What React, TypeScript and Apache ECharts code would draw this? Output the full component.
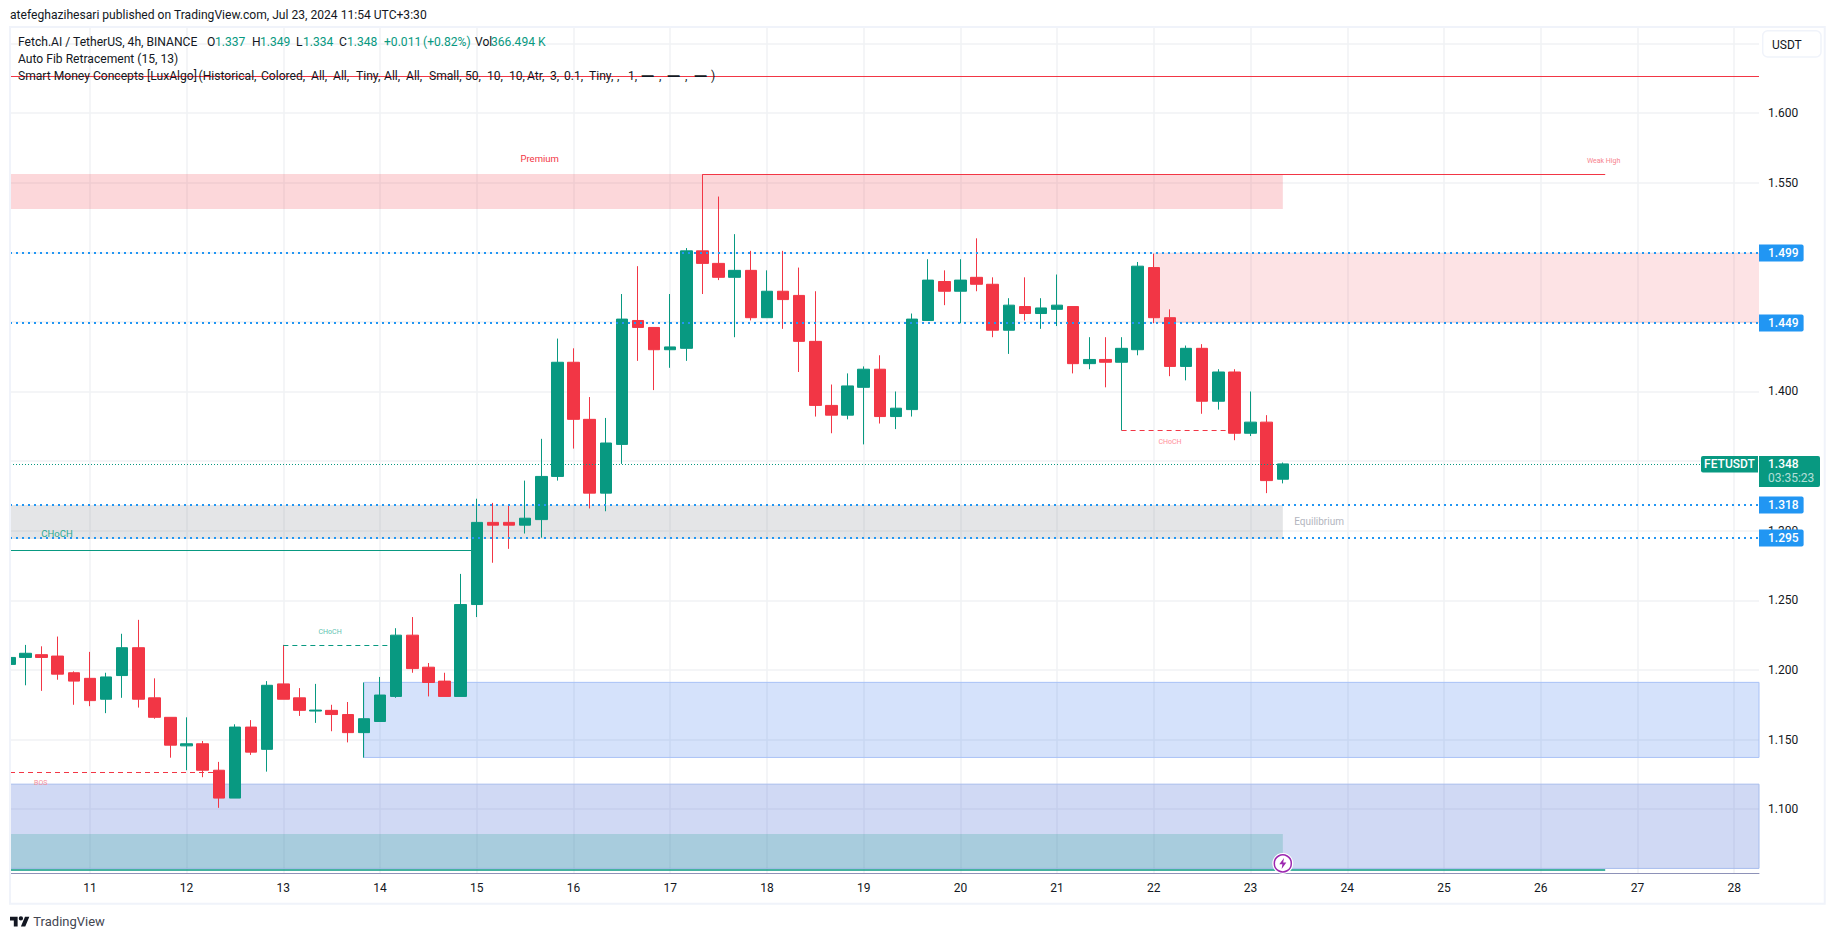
import React, { useEffect, useRef } from "react";
import * as echarts from "echarts";

const opens = [1.204,1.209,1.211,1.210,1.198,1.194,1.179,1.196,1.216,1.180,1.166,1.1455,1.147,1.128,1.108,1.159,1.143,1.190,1.180,1.1705,1.171,1.168,1.155,1.163,1.181,1.225,1.202,1.192,1.181,1.247,1.306,1.306,1.304,1.308,1.339,1.421,1.380,1.327,1.362,1.451,1.446,1.430,1.431,1.501,1.492,1.482,1.487,1.453,1.472,1.469,1.436,1.390,1.383,1.403,1.416,1.382,1.387,1.451,1.479,1.472,1.482,1.477,1.444,1.461,1.456,1.459,1.461,1.420,1.423,1.421,1.430,1.489,1.453,1.418,1.431,1.393,1.414,1.370,1.378,1.337];
const closes = [1.209,1.212,1.209,1.197,1.192,1.178,1.195,1.216,1.179,1.166,1.146,1.147,1.128,1.108,1.159,1.141,1.189,1.179,1.171,1.1712,1.168,1.155,1.165,1.182,1.225,1.201,1.191,1.181,1.247,1.306,1.304,1.304,1.309,1.339,1.421,1.380,1.327,1.363,1.452,1.446,1.430,1.432,1.501,1.492,1.482,1.487,1.453,1.472,1.466,1.436,1.390,1.383,1.404,1.416,1.382,1.388,1.452,1.480,1.472,1.480,1.477,1.444,1.462,1.456,1.460,1.462,1.420,1.423,1.421,1.431,1.490,1.453,1.418,1.431,1.393,1.414,1.370,1.378,1.336,1.348];
const lows = [1.204,1.189,1.185,1.193,1.175,1.174,1.169,1.180,1.173,1.165,1.137,1.128,1.123,1.101,1.108,1.139,1.127,1.179,1.167,1.162,1.156,1.148,1.137,1.163,1.180,1.198,1.181,1.181,1.181,1.238,1.277,1.287,1.298,1.295,1.336,1.359,1.316,1.314,1.348,1.422,1.401,1.417,1.422,1.470,1.480,1.439,1.451,1.453,1.445,1.414,1.382,1.370,1.380,1.362,1.377,1.373,1.382,1.451,1.462,1.449,1.472,1.439,1.427,1.451,1.445,1.447,1.413,1.416,1.403,1.372,1.426,1.449,1.411,1.408,1.384,1.387,1.365,1.368,1.327,1.334];
const highs = [1.209,1.218,1.217,1.224,1.199,1.213,1.198,1.226,1.236,1.194,1.166,1.166,1.149,1.134,1.161,1.164,1.192,1.218,1.187,1.190,1.175,1.177,1.191,1.195,1.230,1.238,1.205,1.198,1.269,1.323,1.320,1.319,1.336,1.366,1.438,1.431,1.396,1.381,1.470,1.490,1.446,1.470,1.503,1.556,1.540,1.513,1.501,1.487,1.501,1.489,1.472,1.405,1.413,1.418,1.426,1.400,1.456,1.495,1.487,1.495,1.510,1.482,1.467,1.482,1.467,1.484,1.461,1.439,1.439,1.439,1.493,1.499,1.459,1.433,1.434,1.416,1.416,1.400,1.383,1.349];

const dayLabels = ["11","12","13","14","15","16","17","18","19","20","21","22","23","24","25","26","27","28"];
const dayTicks = [5,11,17,23,29,35,41,47,53,59,65,71,77,83,89,95,101,107];
const priceGrid = [1.1,1.15,1.2,1.25,1.3,1.35,1.4,1.45,1.5,1.55,1.6,1.65];
const priceLabels = [1.1,1.15,1.2,1.25,1.3,1.4,1.55,1.6];

const X_MIN = 0.0434;
const X_MAX = 108.54;
const Y_MIN = 1.05398;
const Y_MAX = 1.66105;
const LAST_BAR = 79;

const GREEN = "#089981";
const RED = "#f23645";
const BLUE = "#2196f3";
const INK = "#131722";
const GRID = "#f1f2f5";
const FONT = "Roboto";
const HEAD_FONT = `12.1px ${FONT}`;

// [x0, x1, price low, price high, fill, border]
const zones: [number, number, number, number, string, string][] = [
  [X_MIN, LAST_BAR, 1.531, 1.5562, "rgba(242,54,69,0.2)", "transparent"],
  [71, X_MAX, 1.4492, 1.4995, "rgba(242,54,69,0.14)", "transparent"],
  [X_MIN, LAST_BAR, 1.2941, 1.3185, "rgba(120,123,134,0.2)", "transparent"],
  [22, X_MAX, 1.1372, 1.1911, "rgba(45,110,235,0.2)", "#a9c2f6"],
  [X_MIN, X_MAX, 1.0575, 1.118, "rgba(68,104,212,0.25)", "#a7bcec"],
  [X_MIN, LAST_BAR, 1.0575, 1.0822, "rgba(8,153,129,0.2)", "transparent"],
];

const levelPrices = [1.4995, 1.4492, 1.3185, 1.2948];
const levelTexts = ["1.499", "1.449", "1.318", "1.295"];
const LAST_PRICE = 1.348;

// [x0, x1, price, colour, width, dash]
const structureLines: [number, number, number, string, number, string | number[]][] = [
  [X_MIN, X_MAX, 1.6264, RED, 1, "solid"],
  [43, 99, 1.5562, RED, 1, "solid"],
  [X_MIN, 29, 1.2857, GREEN, 1, "solid"],
  [17, 24, 1.2177, GREEN, 1, [5, 4]],
  [X_MIN, 13, 1.1265, RED, 1, [5, 4]],
  [69, 76, 1.3721, RED, 1, [5, 4]],
  [X_MIN, 99, 1.0566, GREEN, 1.5, "solid"],
];

// [x, price, text, colour, font size]
const notes: [number, number, string, string, number][] = [
  [32.9, 1.567, "Premium", RED, 9.5],
  [98.9, 1.5652, "Weak High", "#f7838e", 7],
  [81.25, 1.3063, "Equilibrium", "#b2b5be", 10],
  [2.96, 1.2977, "CHoCH", "#2aa892", 9.5],
  [19.9, 1.2273, "CHoCH", "#5cc3b0", 7],
  [1.95, 1.1188, "BOS", "#f78e98", 7],
  [72, 1.3637, "CHoCH", "#ff8d98", 7],
];

// [x, y, text, colour]
const headerRuns: [number, number, string, string][] = [
  [10, 15, "atefeghazihesari published on TradingView.com, Jul 23, 2024 11:54 UTC+3:30", INK],
  [18, 42, "Fetch.AI / TetherUS, 4h, BINANCE", INK],
  [207, 42, "O", INK],
  [215, 42, "1.337", GREEN],
  [252, 42, "H", INK],
  [260, 42, "1.349", GREEN],
  [296, 42, "L", INK],
  [303, 42, "1.334", GREEN],
  [339, 42, "C", INK],
  [347, 42, "1.348", GREEN],
  [384, 42, "+0.011", GREEN],
  [423, 42, "(+0.82%)", GREEN],
  [475, 42, "Vol", INK],
  [491, 42, "366.494 K", GREEN],
  [18, 59, "Auto Fib Retracement (15, 13)", INK],
  [18, 76, "Smart Money Concepts [LuxAlgo]", INK],
  [198.5, 76, "(Historical,", INK],
  [261, 76, "Colored,", INK],
  [311, 76, "All,", INK],
  [333, 76, "All,", INK],
  [356, 76, "Tiny,", INK],
  [384, 76, "All,", INK],
  [406, 76, "All,", INK],
  [429, 76, "Small,", INK],
  [465, 76, "50,", INK],
  [487, 76, "10,", INK],
  [509, 76, "10,", INK],
  [527, 76, "Atr,", INK],
  [550, 76, "3,", INK],
  [564, 76, "0.1,", INK],
  [589, 76, "Tiny,", INK],
  [617, 76, ",", INK],
  [628, 76, "1,", INK],
  [659, 76, ",", INK],
  [685, 76, ",", INK],
  [711, 76, ")", INK],
];
// [x, text] of the three line-style samples at the end of the indicator title
const styleSamples: [number, string][] = [[640.5, "—"], [666.5, "—"], [693.5, "—"]];

echarts.graphic.registerShape(
  "tvLogo",
  echarts.graphic.extendPath("M14 22H7V11H0V4h14v18zM28 22h-8l7.5-18h8L28 22zM24 7a4 4 0 1 1-8 0a4 4 0 1 1 8 0z", {})
);

export default function App() {
  const ref = useRef<HTMLDivElement>(null);
  useEffect(() => {
    const chart = echarts.init(ref.current!, undefined, { renderer: "svg" });
    const candleData = opens.map((o, i) => [i, o, closes[i], lows[i], highs[i]]);
    chart.setOption({
      animation: false,
      backgroundColor: "#ffffff",
      textStyle: { fontFamily: FONT },
      grid: { left: 10, right: 76, top: 28, bottom: 65.7 },
      xAxis: {
        type: "value",
        min: X_MIN,
        max: X_MAX,
        axisLine: { show: true, lineStyle: { color: "#8e92b8", width: 1 } },
        axisTick: { show: false, customValues: dayTicks },
        splitLine: { show: true, lineStyle: { color: GRID, width: 1.5 } },
        axisLabel: {
          customValues: dayTicks,
          margin: 9,
          color: INK,
          fontSize: 12,
          fontFamily: FONT,
          formatter: (v: number) => dayLabels[dayTicks.indexOf(Math.round(v))] ?? "",
        },
      },
      yAxis: {
        type: "value",
        position: "right",
        min: Y_MIN,
        max: Y_MAX,
        axisLine: { show: false },
        axisTick: { show: false, customValues: priceGrid },
        splitLine: { show: true, lineStyle: { color: GRID, width: 1.5 } },
        axisLabel: {
          customValues: priceLabels,
          margin: 9,
          color: INK,
          fontSize: 12,
          fontFamily: FONT,
          formatter: (v: number) => v.toFixed(3),
        },
      },
      graphic: [
        { type: "rect", silent: true, z: 40, shape: { x: 0, y: 28, width: 9.5, height: 846 }, style: { fill: "#fff" } },
        { type: "rect", silent: true, z: 50, shape: { x: 10, y: 27, width: 1814.7, height: 876.7 }, style: { fill: "none", stroke: "#f0f3fa", lineWidth: 2 } },
        { type: "rect", silent: true, z: 51, shape: { x: 1762.7, y: 30.7, width: 58.3, height: 26.3, r: 5 }, style: { fill: "#fff", stroke: "#f0f3fa", lineWidth: 1.5 } },
        { type: "text", silent: true, z: 52, x: 1772, y: 45, style: { text: "USDT", fill: INK, font: `12px ${FONT}`, verticalAlign: "middle" } },
        ...headerRuns.map(([x, y, text, fill]) => ({
          type: "text", silent: true, z: 60, x, y,
          style: { text, fill, font: HEAD_FONT, verticalAlign: "middle" },
        })),
        ...styleSamples.map(([x, text]) => ({
          type: "text", silent: true, z: 60, x, y: 76,
          style: { text, fill: INK, font: `500 18px ${FONT}`, verticalAlign: "middle" },
        })),
        { type: "tvLogo", silent: true, z: 52, x: 10, y: 914.5, scaleX: 0.545, scaleY: 0.545, style: { fill: INK } },
        { type: "text", silent: true, z: 52, x: 33.3, y: 921.7, style: { text: "TradingView", fill: "#434651", font: `13px ${FONT}`, verticalAlign: "middle" } },
      ],
      series: [
        {
          type: "line",
          name: "levels",
          z: 1,
          data: [],
          silent: true,
          markArea: {
            silent: true,
            data: zones.map(([x0, x1, lo, hi, fill, border]) => [
              { coord: [x0, hi], itemStyle: { color: fill, borderColor: border, borderWidth: border === "transparent" ? 0 : 1 } },
              { coord: [x1, lo] },
            ]),
          },
          markLine: {
            silent: true,
            symbol: "none",
            precision: 4,
            data: [
              ...structureLines.map(([x0, x1, p, color, width, type]) => [
                { coord: [x0, p], lineStyle: { color, width, type }, label: { show: false } },
                { coord: [x1, p] },
              ]),
              [
                { coord: [X_MIN, LAST_PRICE], lineStyle: { color: GREEN, width: 1, type: [1, 2] }, label: { show: false } },
                { coord: [X_MAX, LAST_PRICE] },
              ],
              ...levelPrices.map((p, i) => [
                {
                  coord: [X_MIN, p],
                  lineStyle: { color: BLUE, width: 2, type: [2, 4] },
                  label: {
                    show: true,
                    position: "end",
                    distance: 0,
                    formatter: levelTexts[i],
                    color: "#fff",
                    backgroundColor: BLUE,
                    fontFamily: FONT,
                    fontSize: 12,
                    fontWeight: 500,
                    padding: [3, 5, 2, 9],
                    borderRadius: [0, 2, 2, 0],
                  },
                },
                { coord: [X_MAX, p] },
              ]),
            ],
          },
        },
        {
          type: "candlestick",
          name: "FETUSDT",
          z: 3,
          silent: true,
          barWidth: 12,
          encode: { x: 0, y: [1, 2, 3, 4] },
          itemStyle: { color: GREEN, color0: RED, borderColor: GREEN, borderColor0: RED, borderWidth: 1 },
          data: candleData,
        },
        {
          type: "custom",
          name: "notes",
          z: 6,
          silent: true,
          coordinateSystem: "cartesian2d",
          encode: { x: 0, y: 1 },
          data: notes.map((n) => [n[0], n[1]]),
          renderItem: (params: any, api: any) => {
            const n = notes[params.dataIndex];
            const [x, y] = api.coord([n[0], n[1]]);
            return {
              type: "text",
              x,
              y,
              style: { text: n[2], fill: n[3], font: `${n[4]}px ${FONT}`, align: "center", verticalAlign: "middle" },
            };
          },
        },
        {
          type: "custom",
          name: "last price",
          z: 7,
          silent: true,
          coordinateSystem: "cartesian2d",
          encode: { x: 0, y: 1 },
          data: [[X_MAX, LAST_PRICE]],
          renderItem: (_: any, api: any) => {
            const [x, y] = api.coord([X_MAX, LAST_PRICE]);
            return {
              type: "group",
              children: [
                { type: "rect", shape: { x: x - 58, y: y - 8, width: 57, height: 16.7, r: [2, 0, 0, 2] }, style: { fill: GREEN } },
                { type: "rect", shape: { x, y: y - 8, width: 61, height: 31, r: [0, 2, 2, 0] }, style: { fill: GREEN } },
                { type: "text", x: x - 29.5, y: y + 0.5, style: { text: "FETUSDT", fill: "#fff", font: `500 12px ${FONT}`, align: "center", verticalAlign: "middle" } },
                { type: "text", x: x + 9, y: y + 0.5, style: { text: "1.348", fill: "#fff", font: `500 12px ${FONT}`, verticalAlign: "middle" } },
                { type: "text", x: x + 9, y: y + 14.5, style: { text: "03:35:23", fill: "rgba(255,255,255,0.7)", font: `12px ${FONT}`, verticalAlign: "middle" } },
              ],
            };
          },
        },
        {
          type: "custom",
          name: "badge",
          z: 8,
          silent: true,
          coordinateSystem: "cartesian2d",
          encode: { x: 0, y: 1 },
          data: [[LAST_BAR, 1.0611]],
          renderItem: (_: any, api: any) => {
            const [x, y] = api.coord([LAST_BAR, 1.0611]);
            return {
              type: "group",
              children: [
                { type: "circle", shape: { cx: x, cy: y, r: 10.5 }, style: { fill: "#fff" } },
                { type: "circle", shape: { cx: x, cy: y, r: 8.5 }, style: { fill: "#fff", stroke: "#9c27b0", lineWidth: 1.5 } },
                {
                  type: "path",
                  shape: { pathData: "M7 0L1 8h4l-1 6 6-8H6z", x: x - 4, y: y - 5.5, width: 8, height: 11 },
                  style: { fill: "#9c27b0" },
                },
              ],
            };
          },
        },
      ],
    });
    return () => chart.dispose();
  }, []);
  return <div ref={ref} style={{ position: "absolute", left: 0, top: 0, width: 1835, height: 939 }} />;
}
